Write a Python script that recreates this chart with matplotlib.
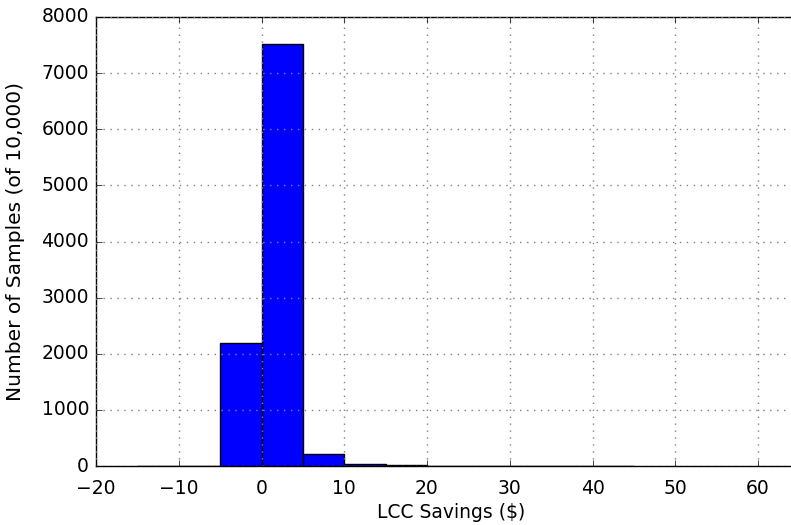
import matplotlib
matplotlib.use("Agg")
import matplotlib.pyplot as plt

# Histogram of LCC savings (bin edges in $, counts of 10,000 samples)
bin_edges = [-15, -10, -5, 0, 5, 10, 15, 20, 25, 30, 35, 40, 45]
counts = [3, 2, 2190, 7520, 205, 35, 20, 8, 5, 4, 3, 3]

plt.style.use('classic')
fig = plt.figure(figsize=(7.91, 5.25), dpi=100, facecolor='white')
# axes runs past the right edge of the figure, as in the original crop
ax = fig.add_axes([96 / 791, 1 - 466 / 525, 710 / 791, 449 / 525])

widths = [bin_edges[i + 1] - bin_edges[i] for i in range(len(counts))]
ax.bar(bin_edges[:-1], counts, width=widths, align='edge',
       color='blue', edgecolor='black', linewidth=1)

ax.set_xlim(-20, -20 + 710 / 8.275)
ax.set_ylim(0, 8000)
ax.set_xticks(range(-20, 61, 10))
ax.set_yticks(range(0, 8001, 1000))
ax.grid(True, color='gray', linestyle=(0, (1, 4)), linewidth=1)
ax.tick_params(labelsize=13.5)
ax.tick_params(axis='x', pad=9)
ax.tick_params(axis='y', pad=5)
ax.set_xlabel("LCC Savings ($)", fontsize=13.5, labelpad=4)
ax.set_ylabel("Number of Samples (of 10,000)", fontsize=14.5, labelpad=12)

fig.savefig("out.png", dpi=100, facecolor='white')
